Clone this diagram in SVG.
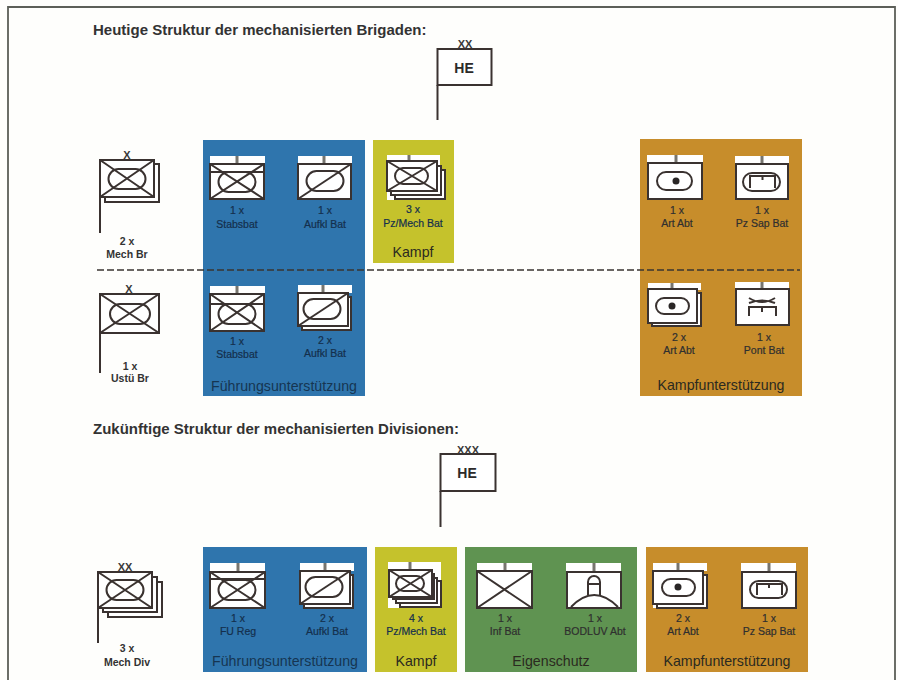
<svg xmlns="http://www.w3.org/2000/svg" width="898" height="680" viewBox="0 0 898 680">
<style>
text{font-family:"Liberation Sans",Arial,sans-serif;text-anchor:middle}
.ttl{font-size:15px;font-weight:bold;fill:#333;text-anchor:start}
.he{font-size:14px;font-weight:bold;fill:#2c2a2a}
.n{font-size:10.5px;fill:#2f2f2f;stroke:#2f2f2f;stroke-width:.2}
.c{font-size:10.5px;font-weight:bold;fill:#333}
.l{font-size:14.2px;fill:#2b2a20}
.lb{font-size:14.200px;fill:#163552}
.nb{font-size:10.5px;fill:#142f4c;stroke:#142f4c;stroke-width:.2}
.s{fill:#fff;stroke:#3a3230;stroke-width:2}
.o{fill:none;stroke:#3a3230;stroke-width:2}
.k{fill:#fff}
.st{fill:none;stroke:#77756f;stroke-width:3}
.p{fill:none;stroke:#3a3230;stroke-width:2}
.m{font-size:11px;font-weight:bold;fill:#3a3a3a}
</style>
<defs>
<rect id="pill" class="p" x="-18.500" y="-10" width="37" height="20" rx="10"/>
<circle id="dot" r="3.500" fill="#2a2626"/>
</defs>
<rect x="0" y="0" width="898" height="680" fill="#fefefc"/>
<path d="M8 680V7H895V680" fill="none" stroke="#5c5f58" stroke-width="1.800"/>
<rect x="203" y="140" width="162" height="256" fill="#2f75ad"/>
<rect x="373" y="140" width="81" height="123" fill="#c5c22c"/>
<rect x="640" y="139" width="162" height="257" fill="#c78d2b"/>
<rect x="203" y="547" width="164" height="125" fill="#2f75ad"/>
<rect x="375" y="547" width="82" height="125" fill="#c5c22c"/>
<rect x="465" y="547" width="172" height="125" fill="#5f9351"/>
<rect x="646" y="547" width="162" height="125" fill="#c78d2b"/>
<g id="connectors"><line x1="97" y1="270" x2="800" y2="270" stroke="#3a3530" stroke-width="1.300" stroke-dasharray="7 3"/></g>
<text class="ttl" x="93" y="35">Heutige Struktur der mechanisierten Brigaden:</text>
<text class="ttl" x="93" y="434">Zukünftige Struktur der mechanisierten Divisionen:</text>

<g id="he-top"><rect class="s" x="437.500" y="49" width="54" height="36"/><line class="o" x1="437.500" y1="85" x2="437.500" y2="120"/><text class="m" x="465" y="48">XX</text><text class="he" x="464" y="73">HE</text></g>
<g id="he-bottom"><rect class="s" x="440.500" y="454" width="55" height="37"/><line class="o" x1="440.500" y1="491" x2="440.500" y2="527"/><text class="m" x="468" y="454">XXX</text><text class="he" x="467" y="478">HE</text></g>

<g id="mech-br"><rect class="s" x="105" y="164" width="54" height="38"/><rect class="s" x="100" y="160" width="54" height="37"/><path class="o" d="M100 160L154 197M154 160L100 197M100 197V233"/><use href="#pill" x="127" y="179"/><text class="m" x="127" y="159">X</text><text class="c" x="127" y="245">2 x</text><text class="c" x="127" y="258">Mech Br</text></g>
<g id="ustue-br"><rect class="s" x="100" y="294" width="59" height="39"/><path class="o" d="M100 294L159 333M159 294L100 333M100 333V373"/><rect class="p" x="110" y="304" width="40" height="20" rx="10"/><text class="m" x="129" y="293">X</text><text class="c" x="130" y="370">1 x</text><text class="c" x="130" y="382">Ustü Br</text></g>
<g id="mech-div"><rect class="s" x="108" y="582" width="54" height="35"/><rect class="s" x="103" y="577" width="54" height="35"/><rect class="s" x="98" y="572" width="54" height="36"/><path class="o" d="M98 572L152 608M152 572L98 608M98 608V643"/><use href="#pill" x="125" y="590"/><text class="m" x="125" y="571">XX</text><text class="c" x="127" y="652">3 x</text><text class="c" x="127" y="666">Mech Div</text></g>

<g id="stabsbat-1"><rect class="k" x="210" y="156" width="55" height="8"/><line class="st" x1="237" y1="156" x2="237" y2="164"/><rect class="s" x="210" y="164" width="54" height="35"/><path class="o" d="M210 172H264M210 164L264 199M264 164L210 199"/><use href="#pill" x="237" y="182"/><text class="nb" x="237" y="214">1 x</text><text class="nb" x="237" y="228">Stabsbat</text></g>
<g id="aufkl-1"><rect class="k" x="298" y="156" width="54" height="8"/><line class="st" x1="324" y1="156" x2="324" y2="164"/><rect class="s" x="298" y="164" width="53" height="35"/><use href="#pill" x="325" y="181"/><line class="o" x1="298" y1="199" x2="351" y2="164"/><text class="nb" x="325" y="214">1 x</text><text class="nb" x="325" y="228">Aufkl Bat</text></g>
<g id="pz-mech-3"><rect class="k" x="387" y="155" width="53" height="45"/><line class="st" x1="409" y1="155" x2="409" y2="161"/><rect class="s" x="395" y="170" width="50" height="29"/><rect class="s" x="391" y="166" width="50" height="29"/><rect class="s" x="387" y="161" width="50" height="30"/><path class="o" d="M387 161L437 191M437 161L387 191"/><rect class="p" x="395" y="168" width="33" height="16" rx="8"/><text class="nb" x="413" y="213">3 x</text><text class="nb" x="413" y="227">Pz/Mech Bat</text><text class="l" x="413" y="257">Kampf</text></g>
<g id="art-1"><rect class="k" x="647" y="155" width="56" height="8"/><line class="st" x1="676" y1="155" x2="676" y2="163"/><rect class="s" x="648" y="163" width="54" height="36"/><rect class="p" x="657" y="172" width="35" height="18" rx="9"/><use href="#dot" x="676" y="181"/><text class="n" x="677" y="214">1 x</text><text class="n" x="677" y="227">Art Abt</text></g>
<g id="pzsap-1"><rect class="k" x="735" y="156" width="54" height="8"/><line class="st" x1="762" y1="156" x2="762" y2="164"/><rect class="s" x="736" y="164" width="52" height="35"/><rect class="p" x="743" y="173" width="37" height="18" rx="9"/><path class="o" d="M750 188V176H775V188M762.500 176V180"/><text class="n" x="762" y="214">1 x</text><text class="n" x="762" y="227">Pz Sap Bat</text></g>

<g id="stabsbat-2"><rect class="k" x="210" y="286" width="55" height="8"/><line class="st" x1="237" y1="286" x2="237" y2="294"/><rect class="s" x="210" y="294" width="54" height="37"/><path class="o" d="M210 304H264M210 294L264 331M264 294L210 331"/><use href="#pill" x="237" y="314"/><text class="nb" x="237" y="345">1 x</text><text class="nb" x="237" y="358">Stabsbat</text></g>
<g id="aufkl-2"><rect class="k" x="298" y="285" width="54" height="8"/><line class="st" x1="323" y1="285" x2="323" y2="293"/><rect class="s" x="302" y="297" width="49" height="33"/><rect class="s" x="298" y="293" width="50" height="33"/><use href="#pill" x="322" y="309"/><line class="o" x1="298" y1="326" x2="348" y2="293"/><text class="nb" x="325" y="344">2 x</text><text class="nb" x="325" y="357">Aufkl Bat</text></g>
<text class="lb" x="284" y="391">Führungsunterstützung</text>
<g id="art-2"><rect class="k" x="648" y="283" width="53" height="7"/><line class="st" x1="672" y1="283" x2="672" y2="289"/><rect class="s" x="652" y="293" width="49" height="33"/><rect class="s" x="648" y="289" width="49" height="34"/><rect class="p" x="656" y="298" width="33" height="16" rx="8"/><use href="#dot" x="672" y="306"/><text class="n" x="679" y="341">2 x</text><text class="n" x="679" y="354">Art Abt</text></g>
<g id="pont-1"><rect class="k" x="735" y="282" width="54" height="8"/><line class="st" x1="762" y1="282" x2="762" y2="289"/><rect class="s" x="736" y="289" width="53" height="36"/><path class="o" d="M749 298Q762 306 775 298M749 303Q762 298 775 303M749 316V307H776V316M762 307V312"/><text class="n" x="764" y="341">1 x</text><text class="n" x="764" y="354">Pont Bat</text></g>
<text class="l" x="721" y="390">Kampfunterstützung</text>

<g id="fu-reg"><rect class="k" x="210" y="563" width="55" height="9"/><line class="st" x1="238" y1="563" x2="238" y2="572"/><rect class="s" x="210" y="572" width="55" height="36"/><path class="o" d="M210 579H265M210 572L265 608M265 572L210 608"/><use href="#pill" x="237" y="590"/><text class="nb" x="238" y="622">1 x</text><text class="nb" x="238" y="635">FU Reg</text></g>
<g id="aufkl-3"><rect class="k" x="300" y="563" width="54" height="8"/><line class="st" x1="325" y1="563" x2="325" y2="571"/><rect class="s" x="304" y="575" width="49" height="33"/><rect class="s" x="300" y="571" width="50" height="33"/><use href="#pill" x="324" y="587"/><line class="o" x1="300" y1="604" x2="350" y2="571"/><text class="nb" x="327" y="622">2 x</text><text class="nb" x="327" y="635">Aufkl Bat</text></g>
<text class="lb" x="285" y="666">Führungsunterstützung</text>
<g id="pz-mech-4"><rect class="k" x="388" y="562" width="53" height="46"/><line class="st" x1="410" y1="562" x2="410" y2="570"/><rect class="s" x="400" y="581" width="41" height="26"/><rect class="s" x="396" y="578" width="41" height="25"/><rect class="s" x="393" y="574" width="41" height="25"/><rect class="s" x="389" y="570" width="43" height="27"/><path class="o" d="M389 570L432 597M432 570L389 597"/><rect class="p" x="396" y="576" width="28" height="15" rx="7.500"/><text class="nb" x="416" y="622">4 x</text><text class="nb" x="416" y="635">Pz/Mech Bat</text><text class="l" x="416" y="666">Kampf</text></g>
<g id="inf-bat"><rect class="k" x="477" y="563" width="55" height="8"/><line class="st" x1="505" y1="563" x2="505" y2="571"/><rect class="s" x="477" y="571" width="55" height="37"/><path class="o" d="M477 571L532 608M532 571L477 608"/><text class="n" x="505" y="622">1 x</text><text class="n" x="505" y="635">Inf Bat</text></g>
<g id="bodluv"><rect class="k" x="566" y="563" width="55" height="9"/><line class="st" x1="594" y1="563" x2="594" y2="572"/><rect class="s" x="567" y="572" width="54" height="36"/><path class="o" d="M571 607Q594 583 618 607M588 595V582A6 6 0 0 1 600 582V595M588 584H600"/><text class="n" x="595" y="622">1 x</text><text class="n" x="595" y="635">BODLUV Abt</text></g>
<text class="l" x="551" y="666">Eigenschutz</text>
<g id="art-3"><rect class="k" x="653" y="563" width="54" height="8"/><line class="st" x1="678" y1="563" x2="678" y2="571"/><rect class="k" x="653" y="603" width="5" height="5"/><rect class="s" x="657" y="575" width="50" height="33"/><rect class="s" x="653" y="571" width="50" height="33"/><rect class="p" x="662" y="579" width="33" height="17" rx="8.500"/><use href="#dot" x="678" y="587"/><text class="n" x="683" y="622">2 x</text><text class="n" x="683" y="635">Art Abt</text></g>
<g id="pzsap-2"><rect class="k" x="741" y="563" width="55" height="9"/><line class="st" x1="769" y1="563" x2="769" y2="572"/><rect class="s" x="742" y="572" width="54" height="36"/><rect class="p" x="750" y="581" width="37" height="17" rx="8.500"/><path class="o" d="M757 595V584H782V595M769 584V588"/><text class="n" x="769" y="622">1 x</text><text class="n" x="769" y="635">Pz Sap Bat</text></g>
<text class="l" x="727" y="666">Kampfunterstützung</text>
</svg>
